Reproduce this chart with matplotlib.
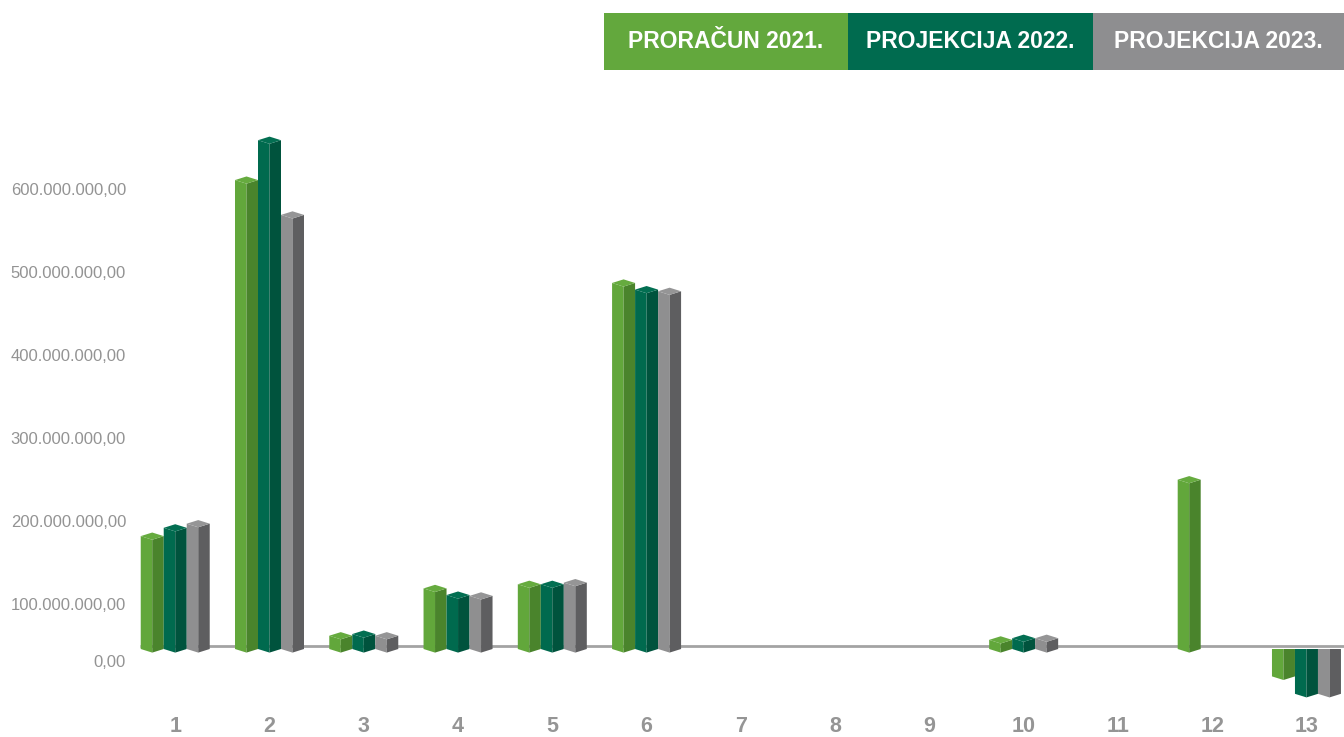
import matplotlib
matplotlib.use("Agg")
import matplotlib.pyplot as plt
from matplotlib.patches import Polygon, Rectangle

# ---------------- data ----------------
categories = ["1", "2", "3", "4", "5", "6", "7", "8", "9", "10", "11", "12", "13"]
series_names = ["PRORAČUN 2021.", "PROJEKCIJA 2022.", "PROJEKCIJA 2023."]
proracun_2021 = [136e6, 565e6, 16e6, 73e6, 78e6, 441e6, 0, 0, 0, 11e6, 0, 204e6, -33e6]
projekcija_2022 = [146e6, 613e6, 18e6, 65e6, 78e6, 433e6, 0, 0, 0, 13e6, 0, 0, -54e6]
projekcija_2023 = [151e6, 523e6, 16e6, 64e6, 80e6, 431e6, 0, 0, 0, 13e6, 0, 0, -54e6]
ytick_values = [0, 100e6, 200e6, 300e6, 400e6, 500e6, 600e6]

# ---------------- style ----------------
front_cols = ["#62A73B", "#006A4E", "#8F8F90"]
side_cols = ["#4A842C", "#00533D", "#5E5E60"]
top_cols = ["#66AB3F", "#036F52", "#959596"]
legend_cols = ["#63A83D", "#006B4F", "#8E8E90"]
label_gray = "#939393"

W, H = 1344, 737
fig = plt.figure(figsize=(W / 100, H / 100), dpi=100)
ax = fig.add_axes([0, 0, 1, 1])
ax.set_axis_off()

# pixel mapping helpers (x: category index, y: value)
px_per_cat = 94.27
x_pix_cat2 = 269.5
x0 = 2 - x_pix_cat2 / px_per_cat
x1 = x0 + W / px_per_cat
px_per_val = 0.83e-6
y_zero_pix = 649
ytop = y_zero_pix / px_per_val
ybot = -(H - y_zero_pix) / px_per_val
ax.set_xlim(x0, x1)
ax.set_ylim(ybot, ytop)

bw = 23 / px_per_cat
d = 3.6 / px_per_val

# baseline
line_y = 3 / px_per_val
ax.plot([x0 + 140 / px_per_cat, x1], [line_y, line_y], color="#A3A3A3", lw=2, zorder=1,
        solid_capstyle="butt")

series = [proracun_2021, projekcija_2022, projekcija_2023]
for s, vals in enumerate(series):
    for i, v in enumerate(vals):
        if v == 0:
            continue
        xc = (i + 1) + (s - 1) * bw
        xl, xr = xc - bw / 2, xc + bw / 2
        if v > 0:
            left = [(xl, 0), (xc, -d), (xc, v - d), (xl, v)]
            right = [(xc, -d), (xr, 0), (xr, v), (xc, v - d)]
            top = [(xl, v), (xc, v + d), (xr, v), (xc, v - d)]
            ax.add_patch(Polygon(left, closed=True, fc=front_cols[s], ec="none", zorder=3))
            ax.add_patch(Polygon(right, closed=True, fc=side_cols[s], ec="none", zorder=3))
            ax.add_patch(Polygon(top, closed=True, fc=top_cols[s], ec="none", zorder=3))
        else:
            left = [(xl, 0), (xc, 0), (xc, v - d), (xl, v)]
            right = [(xc, 0), (xr, 0), (xr, v), (xc, v - d)]
            ax.add_patch(Polygon(left, closed=True, fc=front_cols[s], ec="none", zorder=3))
            ax.add_patch(Polygon(right, closed=True, fc=side_cols[s], ec="none", zorder=3))

# y tick labels (placed as in the reference)
def fmt(v):
    s = f"{int(round(v)):,}".replace(",", ".")
    return s + ",00"

for v in ytick_values:
    pos = v - 48e6 if v else -16e6
    ax.text(x0 + 126 / px_per_cat, pos, fmt(v), ha="right", va="center",
            fontsize=12, color=label_gray, family="Liberation Sans")

# x category labels
xlabel_y = -(727 - y_zero_pix) / px_per_val
for i, c in enumerate(categories):
    ax.text(i + 1, xlabel_y, c, ha="center", va="center", fontsize=15.5,
            fontweight="bold", color="#959595", family="Liberation Sans")

# legend boxes on top (figure pixel coords)
boxes = [(604, 848), (848, 1093), (1093, 1344)]
for (a, b), name, col in zip(boxes, series_names, legend_cols):
    fig.patches.append(Rectangle((a / W, 1 - 70 / H), (b - a) / W, 57 / H,
                                 transform=fig.transFigure, fc=col, ec="none", zorder=0))
    fig.text((a + b) / 2 / W, 1 - 42 / H, name, ha="center", va="center",
             fontsize=16.5, fontweight="bold", color="white", family="Liberation Sans")

fig.savefig("out.png", dpi=100)
